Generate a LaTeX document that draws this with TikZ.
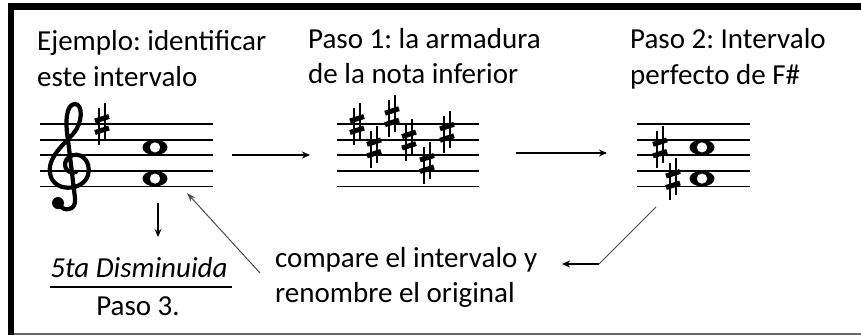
\documentclass[tikz,border=0pt]{standalone}
\usepackage{fontspec}
\setmainfont{Carlito}
\usetikzlibrary{positioning,arrows.meta,calc}

\tikzset{
  staffline/.style={line width=1.8pt},
  txt/.style={anchor=base west,inner sep=0pt,font=\fontsize{29}{35}\selectfont},
  arr/.style={line width=1.8pt,-{Stealth[length=8pt,width=7pt]}},
  thinarr/.style={line width=1pt,black!70,-{Stealth[length=9pt,width=6pt]}},
  sharp/.pic={
    \draw[line width=2.2pt] (-2.8,-16) -- (-2.8,21) (2.8,-21) -- (2.8,16);
    \draw[line width=5pt] (-7,-3) -- (7,-7.5) (-7,8.5) -- (7,4);
  },
  wnote/.pic={
    \fill[even odd rule] (0,0) ellipse (12.5 and 7.8) (0,0) ellipse (5.3 and 5.2);
  },
}
\newcommand{\drawstaff}[2]{\foreach \l in {0,...,4} \draw[staffline] (#1,124+15.6*\l) -- (#2,124+15.6*\l);}

\begin{document}
\frenchspacing
\begin{tikzpicture}[x=1pt,y=-1pt]
\useasboundingbox (0,0) rectangle (861,335);

% frame
\draw[line width=6.5pt] (11,335) -- (11,6.5) -- (861,6.5);
\draw[line width=2pt,black!60] (14,333.5) -- (861,333.5);

% texts
\node[txt] (ej1) at (37,50) {Ejemplo: identificar};
\node[txt] (ej2) at (37,86) {este intervalo};
\node[txt] (p1a) at (308,48) {Paso 1: la armadura};
\node[txt] (p1b) at (308,83) {de la nota inferior};
\node[txt] (p2a) at (630,48) {Paso 2: Intervalo};
\node[txt] (p2b) at (630,84) {perfecto de F\#};
\node[txt] (cmp1) at (275,267) {compare el intervalo y};
\node[txt] (cmp2) at (275,302) {renombre el original};
\node[txt,anchor=base] (dis) at (139,277) {\itshape 5ta Disminuida};
\node[txt,anchor=base] (p3) at (138,315) {Paso 3.};
\draw[line width=2pt] (50,287) -- (232,287);

% staff 1
\drawstaff{40}{213}
\draw[line width=4.2pt,line cap=round]
  (76,172) .. controls (66,175) and (61,163) .. (69,157)
  .. controls (79,150) and (92,160) .. (88,175)
  .. controls (84,190) and (57,193) .. (51,177)
  .. controls (45,160) and (62,146) .. (73,134)
  .. controls (83,123) and (83,104) .. (75,104)
  .. controls (66,104) and (65,122) .. (68,140)
  -- (75,198)
  .. controls (77,211) and (63,212) .. (60,205);
\fill (58,203) circle (6);
\pic at (102,124) {sharp};
\pic at (155,147.4) {wnote};
\pic at (155,178.6) {wnote};

% staff 2
\drawstaff{337}{479}
\foreach \x/\y in {357/124,374/147.4,392/116.2,409/139.6,427/163,447/131.8}
  \pic at (\x,\y) {sharp};

% staff 3
\drawstaff{637}{750}
\pic at (660,147.4) {sharp};
\pic at (673,179) {sharp};
\pic at (702,147.4) {wnote};
\pic at (702,178.6) {wnote};

% connectors
\coordinate (st1r) at (232,155);
\coordinate (st2l) at (310,155);
\coordinate (st2r) at (516,153);
\coordinate (st3l) at (607,153);
\coordinate (dn1) at (158,203);
\coordinate (dn2) at (158,237);
\coordinate (st3b) at (656,207);
\coordinate (bend) at (599,264);
\coordinate (cmpr) at (562,264);
\coordinate (cmpl) at (260,273);
\coordinate (st1b) at (187,193);

\draw[arr] (st1r) -- (st2l);
\draw[arr] (st2r) -- (st3l);
\draw[arr] (dn1) -- (dn2);
\draw[line width=1pt,black!70] (st3b) -- (bend);
\draw[arr] (bend) -- (cmpr);
\draw[thinarr] (cmpl) -- (st1b);

\end{tikzpicture}
\end{document}
